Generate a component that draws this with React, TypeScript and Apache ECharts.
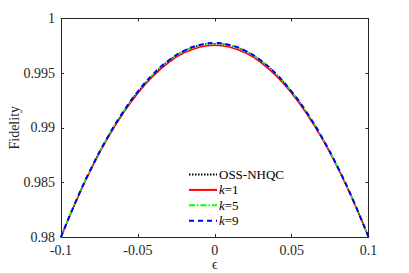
import React, { useEffect, useRef } from "react";
import * as echarts from "echarts";

const epsilon = [-0.1, -0.09, -0.08, -0.07, -0.06, -0.05, -0.04, -0.03, -0.02, -0.01, 0, 0.01, 0.02, 0.03, 0.04, 0.05, 0.06, 0.07, 0.08, 0.09, 0.1];
const ossNhqc = [0.98, 0.98336, 0.98637, 0.98902, 0.99133, 0.99328, 0.99488, 0.99612, 0.99701, 0.99753, 0.9977, 0.99753, 0.99701, 0.99612, 0.99488, 0.99328, 0.99133, 0.98902, 0.98637, 0.98336, 0.98];
const k1 = [0.98, 0.98333, 0.98632, 0.98895, 0.99123, 0.99316, 0.99474, 0.99597, 0.99685, 0.99737, 0.99755, 0.99737, 0.99685, 0.99597, 0.99474, 0.99316, 0.99123, 0.98895, 0.98632, 0.98333, 0.98];
const k5 = [0.98, 0.98337, 0.98638, 0.98904, 0.99135, 0.9933, 0.9949, 0.99614, 0.99703, 0.99755, 0.99772, 0.99755, 0.99703, 0.99614, 0.9949, 0.9933, 0.99135, 0.98904, 0.98638, 0.98337, 0.98];
const k9 = [0.98, 0.98337, 0.98639, 0.98905, 0.99136, 0.99331, 0.99491, 0.99615, 0.99704, 0.99757, 0.99775, 0.99757, 0.99704, 0.99615, 0.99491, 0.99331, 0.99136, 0.98905, 0.98639, 0.98337, 0.98];
const seriesNames = ["OSS-NHQC", "k=1", "k=5", "k=9"];
const xTicks = [-0.1, -0.05, 0, 0.05, 0.1];
const yTicks = [0.98, 0.985, 0.99, 0.995, 1];

const FONT = "'Liberation Serif', 'Times New Roman', Times, serif";

function pair(ys: number[]) {
  return epsilon.map((x, i) => [x, ys[i]]);
}

const fmt = (v: number) => String(Number(v.toFixed(4)));

export default function App() {
  const ref = useRef<HTMLDivElement>(null);
  useEffect(() => {
    document.body.style.margin = "0";
    const chart = echarts.init(ref.current!, null, { renderer: "svg" });
    const axisLine = { show: true, onZero: false, lineStyle: { color: "#262626", width: 1 } };
    const tick = { show: true, inside: true, length: 3, lineStyle: { color: "#262626" } };
    const label = { color: "#262626", fontFamily: FONT, fontSize: 14 };
    const common = (color: string, type: any, width: number) => ({
      type: "line" as const,
      smooth: true,
      showSymbol: false,
      symbol: "none",
      lineStyle: { color, type, width },
      itemStyle: { color },
    });
    chart.setOption({
      animation: false,
      backgroundColor: "#fff",
      grid: { left: 61, right: 40.5, top: 18.5, bottom: 36, outerBoundsMode: "none", containLabel: false },
      xAxis: [
        {
          type: "value",
          min: -0.1,
          max: 0.1,
          interval: 0.05,
          axisLine,
          axisTick: tick,
          splitLine: { show: false },
          axisLabel: { ...label, margin: 6, formatter: (v: number) => (xTicks.some((t) => Math.abs(t - v) < 1e-9) ? fmt(v) : "") },
          name: "\u03f5",
          nameLocation: "middle",
          nameGap: 20,
          nameMoveOverlap: false,
          nameTextStyle: { color: "#262626", fontFamily: FONT, fontSize: 14 },
        },
        {
          type: "value",
          position: "top",
          min: -0.1,
          max: 0.1,
          interval: 0.05,
          axisLine,
          axisTick: tick,
          axisLabel: { show: false },
          splitLine: { show: false },
        },
      ],
      yAxis: [
        {
          type: "value",
          min: 0.98,
          max: 1,
          interval: 0.005,
          axisLine,
          axisTick: tick,
          splitLine: { show: false },
          axisLabel: { ...label, margin: 6, formatter: (v: number) => (yTicks.some((t) => Math.abs(t - v) < 1e-9) ? fmt(v) : "") },
          name: "Fidelity",
          nameLocation: "middle",
          nameGap: 40,
          nameMoveOverlap: false,
          nameTextStyle: { color: "#262626", fontFamily: FONT, fontSize: 14 },
        },
        {
          type: "value",
          position: "right",
          min: 0.98,
          max: 1,
          interval: 0.005,
          axisLine,
          axisTick: tick,
          axisLabel: { show: false },
          splitLine: { show: false },
        },
      ],
      legend: {
        left: 183,
        top: 163,
        orient: "vertical",
        itemWidth: 28,
        itemHeight: 8,
        itemGap: 2.4,
        itemStyle: { color: "transparent", borderWidth: 0, opacity: 0 },
        textStyle: {
          fontFamily: FONT,
          fontSize: 13,
          lineHeight: 12,
          color: "#000",
          padding: [0, 0, 0, -3],
          rich: { i: { fontStyle: "italic", fontFamily: FONT, fontSize: 13, lineHeight: 12 } },
        },
        formatter: (name: string) => (name.startsWith("k=") ? "{i|k}=" + name.slice(2) : name),
        data: seriesNames,
      },
      series: [
        { name: seriesNames[0], data: pair(ossNhqc), ...common("#000000", [1.5, 1.5], 1.5) },
        { name: seriesNames[1], data: pair(k1), ...common("#ff0000", "solid", 1.5) },
        { name: seriesNames[2], data: pair(k5), ...common("#00ff00", [6, 2, 1.5, 2], 1.5) },
        { name: seriesNames[3], data: pair(k9), ...common("#0000ff", [5, 4], 2) },
      ],
    });
    return () => chart.dispose();
  }, []);
  return <div ref={ref} style={{ width: 409, height: 273 }} />;
}
